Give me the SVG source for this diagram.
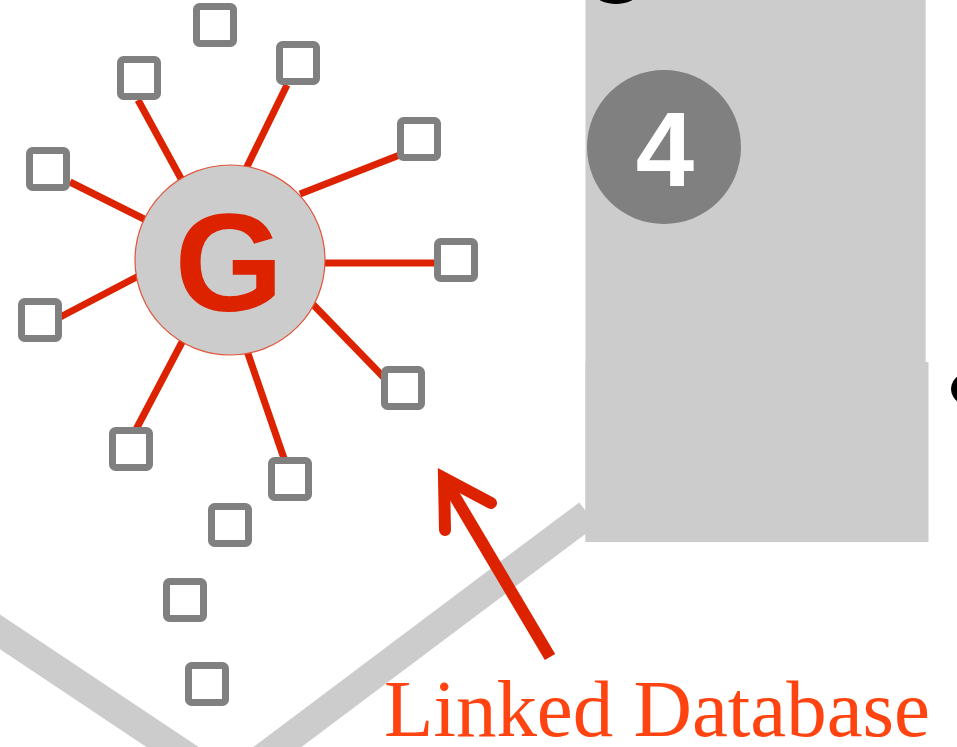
<svg xmlns="http://www.w3.org/2000/svg" width="957" height="747" viewBox="0 0 957 747">
<style>
.sq{fill:#ffffff;stroke:#808080;stroke-width:7}
.ln{stroke:#dd2200;stroke-width:7;fill:none}
.band{stroke:#cccccc;stroke-width:29;fill:none}
</style>
<rect width="957" height="747" fill="#ffffff"/>
<g id="background">
<polyline class="band" points="-20,618.5 228,784 588,514"/>
<rect x="585.5" y="-5" width="340.2" height="547" fill="#cccccc"/>
<rect x="585.5" y="362" width="343" height="180" fill="#cccccc"/>
<ellipse cx="616" cy="-8" rx="22" ry="12" fill="#000000"/>
<ellipse cx="980" cy="389" rx="29" ry="20" fill="#000000"/>
</g>
<g id="connectors">
<line class="ln" x1="70" y1="182" x2="180" y2="237"/>
<line class="ln" x1="138" y1="100" x2="190" y2="195"/>
<line class="ln" x1="287" y1="85" x2="240" y2="181"/>
<line class="ln" x1="300" y1="194" x2="415" y2="149"/>
<line class="ln" x1="310" y1="263" x2="440" y2="263"/>
<line class="ln" x1="45" y1="325" x2="150" y2="270"/>
<line class="ln" x1="300" y1="291" x2="395" y2="389"/>
<line class="ln" x1="190" y1="327" x2="132" y2="437"/>
<line class="ln" x1="245" y1="345" x2="288" y2="470"/>
</g>
<g id="hub">
<circle cx="230" cy="260" r="95" fill="#cccccc" stroke="#e2553a" stroke-width="1.2"/>
<text x="229" y="311" text-anchor="middle" font-family="'Liberation Sans', Arial, sans-serif" font-weight="bold" font-size="140" fill="#dd2200">G</text>
</g>
<g id="records">
<rect class="sq" x="196.5" y="6.5" width="37" height="37" rx="3"/>
<rect class="sq" x="120.5" y="59.5" width="37" height="37" rx="3"/>
<rect class="sq" x="279.5" y="44.5" width="37" height="37" rx="3"/>
<rect class="sq" x="29.5" y="150.5" width="37" height="37" rx="3"/>
<rect class="sq" x="400.5" y="120.5" width="37" height="37" rx="3"/>
<rect class="sq" x="437.5" y="241.5" width="37" height="37" rx="3"/>
<rect class="sq" x="21.5" y="301.5" width="37" height="37" rx="3"/>
<rect class="sq" x="384.5" y="369.5" width="37" height="37" rx="3"/>
<rect class="sq" x="112.5" y="430.5" width="37" height="37" rx="3"/>
<rect class="sq" x="271.5" y="460.5" width="37" height="37" rx="3"/>
<rect class="sq" x="211.5" y="506.5" width="37" height="37" rx="3"/>
<rect class="sq" x="166.5" y="581.5" width="37" height="37" rx="3"/>
<rect class="sq" x="188.5" y="665.5" width="37" height="37" rx="3"/>
</g>
<g id="badge4">
<circle cx="664" cy="147" r="77" fill="#808080"/>
<text x="665" y="186" text-anchor="middle" font-family="'Liberation Sans', Arial, sans-serif" font-weight="bold" font-size="105" fill="#ffffff">4</text>
</g>
<g id="arrow">
<line x1="550" y1="657" x2="448" y2="485" stroke="#dd2200" stroke-width="12"/>
<path d="M445,530 L444,478 L491,503" fill="none" stroke="#dd2200" stroke-width="12" stroke-linecap="round" stroke-linejoin="miter"/>
</g>
<g id="label">
<text x="384" y="736" font-family="'Liberation Serif', 'Times New Roman', serif" font-size="80" textLength="546" lengthAdjust="spacingAndGlyphs" fill="#ff4411">Linked Database</text>
</g>
</svg>
